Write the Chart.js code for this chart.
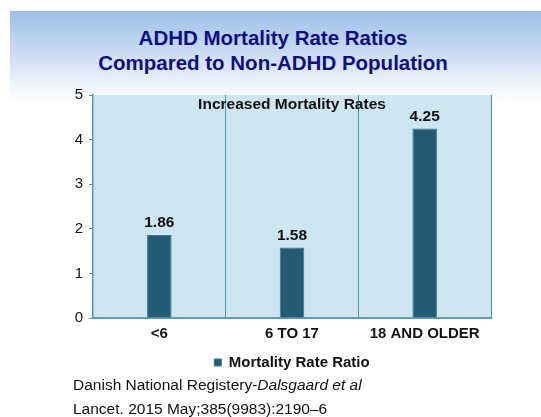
<!DOCTYPE html>
<html lang="en">
  <head>
    <meta charset="UTF-8" />
    <title>ADHD Mortality Rate Ratios</title>
    <script src="https://cdn.jsdelivr.net/npm/chart.js"></script>
    <style>
      body {
        margin: 0;
        width: 541px;
        height: 417px;
        position: relative;
        overflow: hidden;
        background: #fff;
        font-family: "Liberation Sans", Arial, sans-serif;
      }
      .band {
        position: absolute;
        left: 10px;
        top: 11px;
        right: 0;
        height: 92px;
        background: linear-gradient(to bottom, #9cc0e8 0%, #c9dcf2 45%, #eef3fb 80%, #ffffff 100%);
      }
      .title {
        position: absolute;
        left: 0;
        width: 546px;
        top: 25px;
        text-align: center;
        color: #0d0d8a;
        font-weight: bold;
        font-size: 20.5px;
        line-height: 25px;
      }
      canvas {
        position: absolute;
        left: 0;
        top: 0;
      }
      .note {
        position: absolute;
        left: 73px;
        top: 373px;
        font-size: 15.5px;
        line-height: 24px;
        color: #111;
      }
    </style>
  </head>
  <body>
    <div class="band"></div>
    <div class="title">ADHD Mortality Rate Ratios<br />Compared to Non-ADHD Population</div>
    <canvas id="chart" width="541" height="417"></canvas>
    <div class="note">
      Danish National Registery-<i>Dalsgaard et al</i><br />
      Lancet. 2015 May;385(9983):2190–6
    </div>

    <script>
      const ageGroups = ["<6", "6 TO 17", "18 AND OLDER"];
      const mortalityRatio = [1.86, 1.58, 4.25];
      const yTicks = [0, 1, 2, 3, 4, 5];

      const FONT = "'Liberation Sans', Arial, sans-serif";

      // light blue plot background + inner heading + value labels
      const plotDecor = {
        id: "plotDecor",
        beforeDraw(chart) {
          const { ctx, chartArea: a } = chart;
          ctx.save();
          ctx.fillStyle = "#cde6f2";
          ctx.fillRect(a.left, a.top, a.right - a.left, a.bottom - a.top);
          ctx.restore();
        },
        afterDatasetsDraw(chart) {
          const { ctx, chartArea: a } = chart;
          ctx.save();
          ctx.fillStyle = "#111";
          ctx.font = "bold 15.5px " + FONT;
          ctx.textAlign = "center";
          ctx.textBaseline = "middle";
          ctx.fillText("Increased Mortality Rates", 292, a.top + 10);
          const meta = chart.getDatasetMeta(0);
          meta.data.forEach((bar, i) => {
            ctx.fillText(mortalityRatio[i].toFixed(2), bar.x, bar.y - 12);
          });
          ctx.restore();
        },
      };

      new Chart(document.getElementById("chart"), {
        type: "bar",
        data: {
          labels: ageGroups,
          datasets: [
            {
              label: "Mortality Rate Ratio",
              data: mortalityRatio,
              backgroundColor: "#235b73",
              borderColor: "#3a7690",
              borderWidth: 1,
              categoryPercentage: 1,
              barPercentage: 0.185,
            },
          ],
        },
        options: {
          responsive: false,
          animation: false,
          layout: { padding: { top: 95, right: 50, bottom: 37, left: 0 } },
          plugins: {
            tooltip: { enabled: false },
            legend: {
              position: "bottom",
              fullSize: false,
              labels: {
                color: "#111",
                font: { size: 15, weight: "bold", family: FONT },
                boxWidth: 7,
                boxHeight: 7,
                padding: 5,
              },
            },
          },
          scales: {
            x: {
              grid: {
                offset: true,
                color: "#4f8fb0",
                drawTicks: false,
              },
              border: { color: "#5a9cc2", width: 2 },
              ticks: {
                color: "#111",
                padding: 7,
                font: { size: 15, weight: "bold", family: FONT },
              },
            },
            y: {
              min: 0,
              max: 5,
              afterFit(scale) {
                scale.width = 93;
              },
              afterBuildTicks(scale) {
                scale.ticks = yTicks.map((v) => ({ value: v }));
              },
              grid: { drawOnChartArea: false, tickLength: 4, color: "#4f8fb0" },
              border: { color: "#4f97c0", width: 1.5 },
              ticks: {
                color: "#111",
                padding: 6,
                font: { size: 15, family: FONT },
              },
            },
          },
        },
        plugins: [plotDecor],
      });
    </script>
  </body>
</html>
